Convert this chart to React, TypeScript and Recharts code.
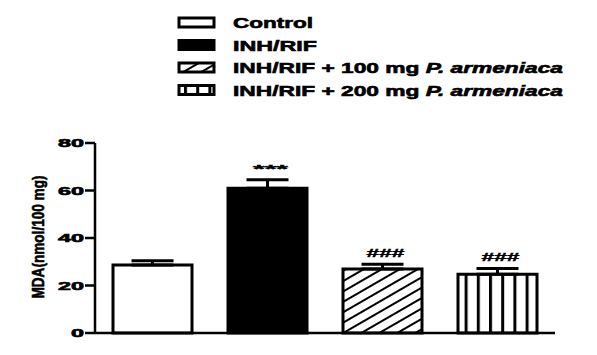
import { Bar, BarChart, Cell, ErrorBar, LabelList, XAxis, YAxis } from 'recharts';

// group names (plain part + italic species part)
const groupPlain = ['Control', 'INH/RIF', 'INH/RIF + 100 mg ', 'INH/RIF + 200 mg '];
const groupItalic = ['', '', 'P. armeniaca', 'P. armeniaca'];
const mdaMean = [28.6, 61, 27, 24.7];
const mdaSem = [1.8, 3.5, 2, 2.5];
const sigMarks = ['', '***', '###', '###'];
const yTicks = [0, 20, 40, 60, 80];

const fills = ['#fff', '#000', 'url(#hatch)', 'url(#stripes)'];
const legendWidths = [80, 84, 330, 330];

const data = groupPlain.map((g, i) => ({
    name: g + groupItalic[i],
    mda: mdaMean[i],
    err: [0, mdaSem[i]],
}));

const FONT = '"Liberation Sans", Arial, sans-serif';
// thickens the bold text a bit, the scan looks heavier than plain bold
const heavy = { stroke: '#000', strokeWidth: 0.6 };

function Patterns({ prefix = '' }: { prefix?: string }) {
    return (
        <defs>
            <pattern id={prefix + 'hatch'} patternUnits="userSpaceOnUse" width="10" height="9" patternTransform="rotate(-30)">
                <rect x="0" y="0" width="10" height="9" fill="#fff" />
                <rect x="0" y="0" width="10" height="2" fill="#000" />
            </pattern>
            <pattern id={prefix + 'stripes'} patternUnits="userSpaceOnUse" x="1" width="12.2" height="10">
                <rect x="0" y="0" width="12.2" height="10" fill="#fff" />
                <rect x="0" y="0" width="3" height="10" fill="#000" />
            </pattern>
        </defs>
    );
}

function YTick(props: any) {
    const { x, y, payload } = props;
    const txt = String(payload.value);
    return (
        <text
            x={x}
            y={y + 4}
            textAnchor="end"
            fontFamily={FONT}
            fontWeight="bold"
            fontSize={11}
            textLength={txt.length * 13}
            lengthAdjust="spacingAndGlyphs"
            fill="#000"
            {...heavy}
        >
            {txt}
        </text>
    );
}

function SigLabel(props: any) {
    const { x, y, width, height, index } = props;
    const mark = sigMarks[index];
    if (!mark) return null;
    const pxPerUnit = height / mdaMean[index];
    const top = y - mdaSem[index] * pxPerUnit;
    return (
        <text
            x={x + width / 2 + 3}
            y={top - 7}
            textAnchor="middle"
            fontFamily={FONT}
            fontWeight="bold"
            fontSize={11}
            textLength={mark === '***' ? 35 : 38}
            lengthAdjust="spacingAndGlyphs"
            fill="#000"
            stroke="#000"
            strokeWidth={0.4}
        >
            {mark}
        </text>
    );
}

function ChartLegend() {
    return (
        <svg width={597} height={110} style={{ position: 'absolute', left: 0, top: 0 }}>
            <Patterns prefix="lg-" />
            {groupPlain.map((g, i) => {
                const cy = 22.5 + i * 22.5;
                const fill = i === 2 ? 'url(#lg-hatch)' : i === 3 ? 'url(#lg-stripes)' : fills[i];
                return (
                    <g key={g}>
                        <rect x={179} y={cy - 4.5} width={35} height={9} fill={fill} stroke="#000" strokeWidth={3} />
                        <text
                            x={233}
                            y={cy + 5.5}
                            fontFamily={FONT}
                            fontWeight="bold"
                            fontSize={15}
                            textLength={legendWidths[i]}
                            lengthAdjust="spacingAndGlyphs"
                            fill="#000"
                            {...heavy}
                        >
                            {g}
                            {groupItalic[i] && <tspan fontStyle="italic">{groupItalic[i]}</tspan>}
                        </text>
                    </g>
                );
            })}
        </svg>
    );
}

export default function App() {
    return (
        <div style={{ position: 'absolute', left: 0, top: 0, width: 597, height: 355, background: '#fff' }}>
            <ChartLegend />
            <div style={{ position: 'absolute', left: 0, top: 0 }}>
                <BarChart
                    width={597}
                    height={355}
                    data={data}
                    margin={{ top: 143, right: 42, left: 35, bottom: 20 }}
                    barSize={79}
                >
                    <Patterns />
                    <XAxis
                        dataKey="name"
                        tick={false}
                        tickLine={false}
                        height={2}
                        axisLine={{ stroke: '#000', strokeWidth: 2.5 }}
                    />
                    <YAxis
                        width={60}
                        domain={[0, 80]}
                        ticks={yTicks}
                        tickSize={10}
                        tickMargin={1}
                        tick={<YTick />}
                        tickLine={{ stroke: '#000', strokeWidth: 2.5 }}
                        axisLine={{ stroke: '#000', strokeWidth: 2.5 }}
                        label={{
                            value: 'MDA(nmol/100 mg)',
                            angle: -90,
                            position: 'center',
                            content: () => (
                                <text
                                    x={0}
                                    y={0}
                                    transform="translate(44,237) rotate(-90)"
                                    textAnchor="middle"
                                    fontFamily={FONT}
                                    fontWeight="bold"
                                    fontSize={17}
                                    textLength={123}
                                    lengthAdjust="spacingAndGlyphs"
                                    fill="#000"
                                    {...heavy}
                                >
                                    MDA(nmol/100 mg)
                                </text>
                            ),
                        }}
                    />
                    <Bar dataKey="mda" stroke="#000" strokeWidth={3} isAnimationActive={false}>
                        {data.map((d, i) => (
                            <Cell key={d.name} fill={fills[i]} />
                        ))}
                        <ErrorBar dataKey="err" direction="y" width={21} stroke="#000" strokeWidth={3} />
                        <LabelList dataKey="mda" content={<SigLabel />} />
                    </Bar>
                </BarChart>
            </div>
        </div>
    );
}
